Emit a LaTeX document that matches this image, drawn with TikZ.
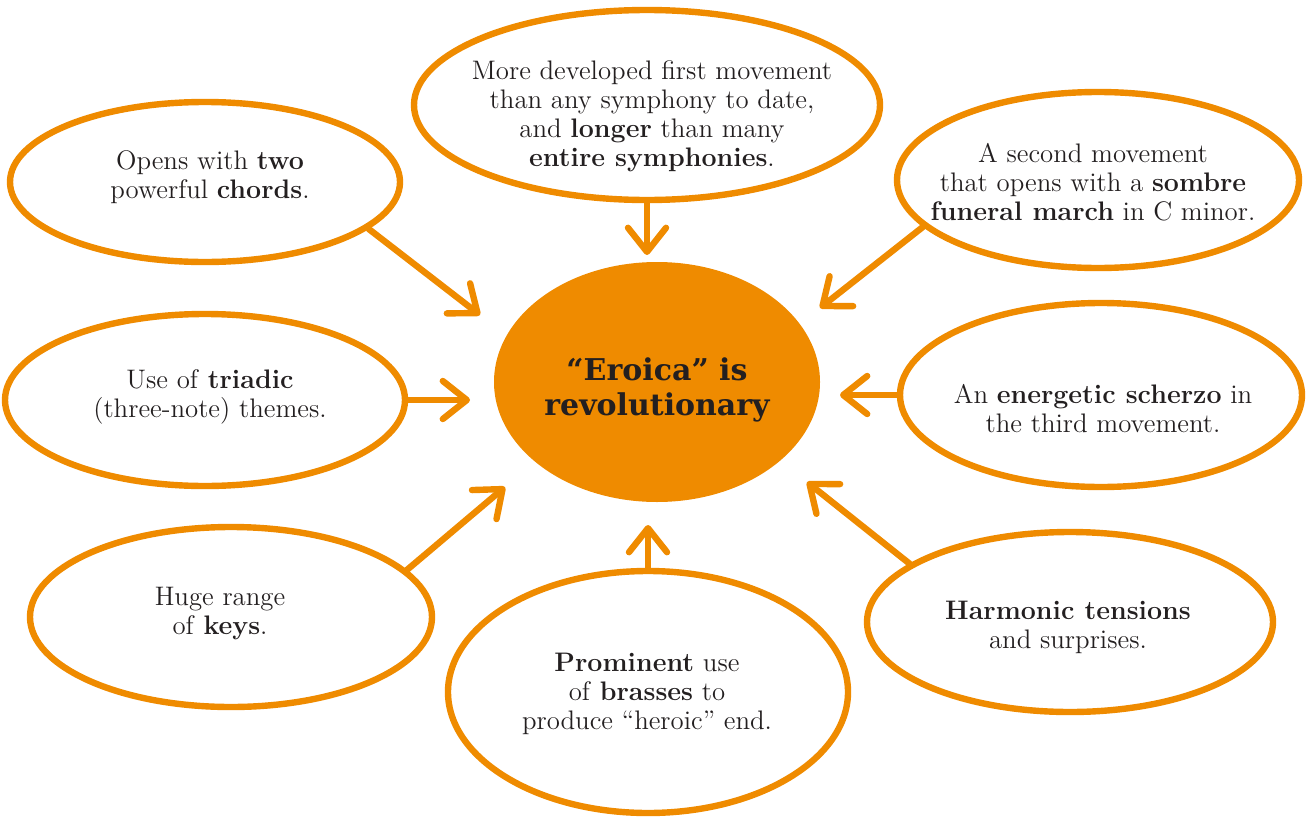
\documentclass[tikz,border=0pt]{standalone}
\usepackage{fontspec}
\newfontfamily\heavyfont{DejaVu Serif}
\usetikzlibrary{shapes.geometric,arrows.meta}
\definecolor{eor}{RGB}{239,139,0}
\definecolor{ink}{RGB}{35,31,32}
\begin{document}
\begin{tikzpicture}[x=0.5pt,y=-0.5pt,
  bubble/.style={ellipse, draw=eor, line width=3.2pt, inner sep=0pt},
  txt/.style={text=ink, align=center, font=\fontsize{13.4}{14.5}\selectfont},
  arr/.style={draw=eor, line width=3.2pt, line cap=round,
    -{Straight Barb[length=12pt,width=19pt,round]}},
]
\useasboundingbox (0,0) rectangle (1306,819);
% centre
\node[ellipse, fill=eor, inner sep=0pt, minimum width=163pt, minimum height=120pt] (c) at (657,382) {};
\node[text=ink, align=center, font=\heavyfont\bfseries\fontsize{15}{17.5}\selectfont] (ct) at (657,390) {“Eroica” is\\revolutionary};
% bubbles
\node[bubble, minimum width=233pt, minimum height=95pt] (top) at (647,105) {};
\node[bubble, minimum width=195pt, minimum height=80pt] (tl) at (205,182) {};
\node[bubble, minimum width=201pt, minimum height=88pt] (tr) at (1098,180) {};
\node[bubble, minimum width=200pt, minimum height=86pt] (lm) at (205,400) {};
\node[bubble, minimum width=201pt, minimum height=92pt] (rm) at (1101,395) {};
\node[bubble, minimum width=201pt, minimum height=90pt] (bl) at (231,617) {};
\node[bubble, minimum width=200pt, minimum height=121pt] (bc) at (648,692) {};
\node[bubble, minimum width=203pt, minimum height=90pt] (br) at (1070,622) {};
% texts
\node[txt] (ttop) at (652,116) {More developed first movement\\than any symphony to date,\\and \textbf{longer} than many\\\textbf{entire symphonies}.};
\node[txt] (ttl) at (210,177) {Opens with \textbf{two}\\powerful \textbf{chords}.};
\node[txt] (ttr) at (1093,182) {A second movement\\that opens with a \textbf{sombre}\\\textbf{funeral march} in C minor.};
\node[txt] (tlm) at (210,397) {Use of \textbf{triadic}\\(three-note) themes.};
\node[txt] (trm) at (1103,409) {An \textbf{energetic scherzo} in\\the third movement.};
\node[txt] (tbl) at (220,614) {Huge range\\of \textbf{keys}.};
\node[txt] (tbc) at (647,694) {\textbf{Prominent} use\\of \textbf{brasses} to\\produce “heroic” end.};
\node[txt] (tbr) at (1068,627) {\textbf{Harmonic tensions}\\and surprises.};
% arrow tips
\coordinate (pT) at (647,255);
\coordinate (pTL) at (480,315);
\coordinate (pTR) at (820,308);
\coordinate (pLM) at (470,400);
\coordinate (pRM) at (840,395);
\coordinate (pBL) at (505,487);
\coordinate (pB) at (648,525);
\coordinate (pBR) at (807,482);
% arrows
\draw[arr] (top.south) -- (pT);
\draw[arr] (tl.-16) -- (pTL);
\draw[arr] (tr.195) -- (pTR);
\draw[arr] (lm.east) -- (pLM);
\draw[arr] (rm.west) -- (pRM);
\draw[arr] (bl.15) -- (pBL);
\draw[arr] (bc.north) -- (pB);
\draw[arr] (br.160) -- (pBR);
\end{tikzpicture}
\end{document}
